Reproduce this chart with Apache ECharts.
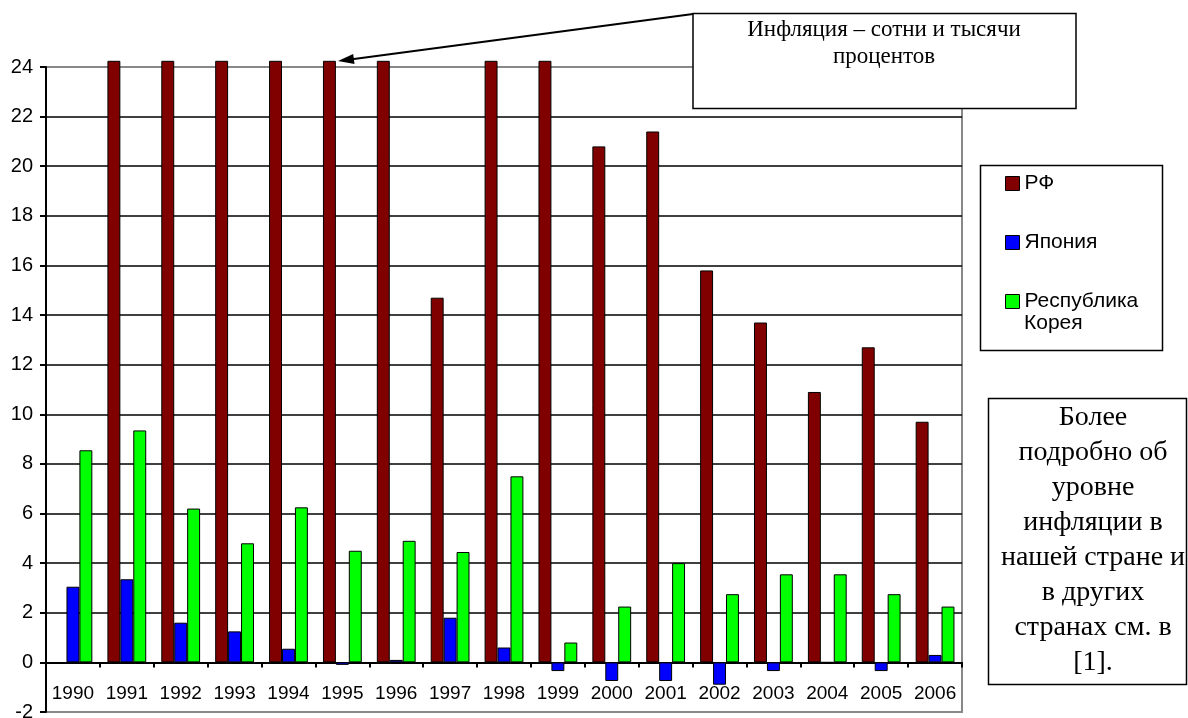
<!DOCTYPE html>
<html>
<head>
<meta charset="utf-8">
<script src="https://cdn.jsdelivr.net/npm/echarts@6.0.0/dist/echarts.min.js"></script>
<style>
  html, body { margin: 0; padding: 0; background: #fff; }
  #chart { width: 1188px; height: 718px; }
</style>
</head>
<body>
<div id="chart"></div>
<script>
  // годы
  var years = ['1990', '1991', '1992', '1993', '1994', '1995', '1996', '1997', '1998',
    '1999', '2000', '2001', '2002', '2003', '2004', '2005', '2006'];
  // РФ: столбцы, упирающиеся в верх шкалы (сотни и тысячи процентов), обрезаны
  var rfData = [null, 24.25, 24.25, 24.25, 24.25, 24.25, 24.25, 14.7, 24.25, 24.25,
    20.8, 21.4, 15.8, 13.7, 10.9, 12.7, 9.7];
  var japanData = [3.05, 3.35, 1.6, 1.25, 0.55, -0.1, 0.1, 1.8, 0.6, -0.35,
    -0.75, -0.75, -0.9, -0.35, 0, -0.35, 0.3];
  var koreaData = [8.55, 9.35, 6.2, 4.8, 6.25, 4.5, 4.9, 4.45, 7.5, 0.8,
    2.25, 4.0, 2.75, 3.55, 3.55, 2.75, 2.25];
  var seriesNames = ['РФ', 'Япония', 'Республика Корея'];
  var seriesColors = ['#800000', '#0000ff', '#00ff00'];

  var sans = '"Liberation Sans", Arial, sans-serif';
  var serif = '"Liberation Serif", "Times New Roman", serif';

  // линии сетки: нижняя и верхняя серые (рамка), остальные чёрные
  var gridColors = [];
  for (var i = 0; i <= 13; i++) {
    gridColors.push(i === 0 || i === 13 ? '#888888' : '#000000');
  }

  var myChart = echarts.init(document.getElementById('chart'));

  function makeSeries(idx, data) {
    return {
      name: seriesNames[idx],
      type: 'bar',
      data: data,
      clip: false,
      barGap: '0%',
      barCategoryGap: '28%',
      itemStyle: {
        color: seriesColors[idx],
        borderColor: '#000',
        borderWidth: 1
      },
      emphasis: { disabled: true }
    };
  }

  var option = {
    backgroundColor: '#ffffff',
    animation: false,
    grid: {
      left: 46,
      right: 226,
      top: 67,
      bottom: 6,
      outerBoundsMode: 'none',
      containLabel: false,
      show: true,
      borderColor: '#888888',
      borderWidth: 2,
      backgroundColor: 'transparent'
    },
    legend: {
      orient: 'vertical',
      left: 1005,
      top: 173,
      padding: 0,
      itemGap: 38,
      itemWidth: 14,
      itemHeight: 14,
      icon: 'rect',
      selectedMode: false,
      itemStyle: { borderColor: '#000', borderWidth: 1 },
      textStyle: { fontFamily: sans, fontSize: 21, color: '#000', lineHeight: 20 },
      formatter: function (name) {
        // вторая строка подписи рисуется отдельно, чтобы значок стоял у первой строки
        return name === 'Республика Корея' ? 'Республика' : name;
      },
      data: seriesNames
    },
    xAxis: {
      type: 'category',
      data: years,
      axisLine: { onZero: true, lineStyle: { color: '#000', width: 2 } },
      axisTick: { show: true, length: 5, lineStyle: { color: '#000', width: 2 } },
      // подписи лежат между нулём и -2, т.е. внутри области графика
      axisLabel: { margin: -28, fontFamily: sans, fontSize: 19, color: '#000', interval: 0 },
      splitLine: { show: false }
    },
    yAxis: {
      type: 'value',
      min: -2,
      max: 24,
      interval: 2,
      axisLine: { show: true, lineStyle: { color: '#000', width: 2 } },
      axisTick: { show: true, length: 6, lineStyle: { color: '#000', width: 2 } },
      axisLabel: { margin: 13, fontFamily: sans, fontSize: 20, color: '#000' },
      splitLine: { show: true, lineStyle: { color: gridColors, width: 1.5 } }
    },
    series: [
      makeSeries(0, rfData),
      makeSeries(1, japanData),
      makeSeries(2, koreaData)
    ],
    graphic: [
      // рамка легенды
      {
        type: 'rect', z: 1,
        shape: { x: 980.5, y: 165.5, width: 182, height: 185 },
        style: { fill: 'transparent', stroke: '#000', lineWidth: 1.5 }
      },
      {
        type: 'text', z: 2, x: 1024, y: 323,
        style: { text: 'Корея', font: '21px ' + sans, fill: '#000', verticalAlign: 'middle' }
      },
      // стрелка к столбцу 1995 года
      {
        type: 'polyline', z: 20,
        shape: { points: [[693, 14], [352, 59.2]] },
        style: { stroke: '#000', lineWidth: 2, fill: null }
      },
      {
        type: 'polygon', z: 20,
        shape: { points: [[338, 61], [354.5, 64], [353.2, 53.9]] },
        style: { fill: '#000' }
      },
      // верхняя выноска
      {
        type: 'rect', z: 10,
        shape: { x: 693, y: 13.5, width: 383, height: 95 },
        style: { fill: '#fff', stroke: '#000', lineWidth: 1.5 }
      },
      {
        type: 'text', z: 11, x: 884, y: 16.5,
        style: {
          text: 'Инфляция – сотни и тысячи\nпроцентов',
          font: '23px ' + serif, fill: '#000', align: 'center', verticalAlign: 'top', lineHeight: 27
        }
      },
      // нижняя выноска
      {
        type: 'rect', z: 10,
        shape: { x: 988.5, y: 398.5, width: 198, height: 286 },
        style: { fill: '#fff', stroke: '#000', lineWidth: 1.5 }
      },
      {
        type: 'text', z: 11, x: 1093, y: 400.5,
        style: {
          text: 'Более\nподробно об\nуровне\nинфляции в\nнашей стране и\nв других\nстранах см. в\n[1].',
          font: '28px ' + serif, fill: '#000', align: 'center', verticalAlign: 'top', lineHeight: 35
        }
      }
    ]
  };

  myChart.setOption(option);
</script>
</body>
</html>
